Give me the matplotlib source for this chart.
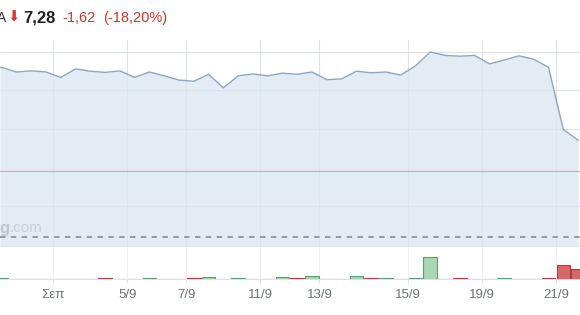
import matplotlib
matplotlib.use("Agg")
import matplotlib.pyplot as plt
import numpy as np

plt.rcParams["font.family"] = ["Liberation Sans", "DejaVu Sans"]

# ---- data ----
prices = [9.60, 9.48, 9.51, 9.48, 9.34, 9.56, 9.50, 9.47, 9.51, 9.34,
          9.48, 9.38, 9.27, 9.24, 9.42, 9.07, 9.38, 9.43, 9.38, 9.45,
          9.42, 9.48, 9.28, 9.30, 9.50, 9.46, 9.48, 9.40, 9.64, 10.00,
          9.91, 9.89, 9.91, 9.69, 9.79, 9.90, 9.81, 9.60, 7.99, 7.71]
volumes = [0.8, 0, 0, 0, 0, 0, 0, 0.8, 0, 0,
           0.8, 0, 0, 0.8, 2.0, 0, 0.8, 0, 0, 2.0,
           1.2, 2.7, 0, 0, 3.0, 0.8, 0.8, 0, 0.8, 22.0,
           0, 0.8, 0, 0, 0.8, 0, 0, 0.8, 14.0, 10.0]
tick_pos = [3.5, 8.5, 12.5, 17.5, 21.5, 27.5, 32.5, 37.5]
tick_labels = ["Σεπ", "5/9", "7/9", "11/9", "13/9", "15/9", "19/9", "21/9"]
ref_line = 6.91
dash_line = 5.19
last_price = "7,28"
change = "-1,62"
change_pct = "(-18,20%)"

W, H = 580, 315
fig = plt.figure(figsize=(W / 100, H / 100), dpi=100)

def box(x0, y0, x1, y1):
    return [x0 / W, 1 - y1 / H, (x1 - x0) / W, (y1 - y0) / H]

xlim = (-0.115, 39.13)
x = np.arange(len(prices))

# ---- price axes ----
ax = fig.add_axes(box(0, 40, W, 247))
ax.set_xlim(*xlim)
ax.set_ylim(4.94, 10.31)
for v in [10, 9, 8, 6]:
    ax.axhline(v, color="#e5e9ee", lw=0.8, zorder=1)
for t in tick_pos:
    ax.axvline(t, color="#e5e9ee", lw=0.8, zorder=1)
xf = np.concatenate([[xlim[0]], x])
pf = np.concatenate([[prices[0]], prices])
ax.fill_between(xf, pf, 4.94, color="#e3ebf4", zorder=2, lw=0)
for v in [10, 9, 8, 6]:
    ax.axhline(v, color="#d6dee8", lw=0.6, zorder=2.5, alpha=0.6)
for t in tick_pos:
    ax.axvline(t, color="#d6dee8", lw=0.6, zorder=2.5, alpha=0.6)
ax.plot(xf, pf, color="#8ea6bd", lw=1.0, zorder=4)
ax.axhline(ref_line, color="#ec9c98", lw=0.8, zorder=3)
ax.axhline(dash_line, color="#8c939b", lw=1.3, ls=(0, (3, 3)), zorder=3)
for s in ["top", "left", "right"]:
    ax.spines[s].set_visible(False)
ax.spines["bottom"].set_color("#c9cfd6")
ax.spines["bottom"].set_linewidth(1.0)
ax.set_xticks([])
ax.set_yticks([])

# ---- volume axes ----
axv = fig.add_axes(box(0, 247, W, 279))
axv.set_xlim(*xlim)
axv.set_ylim(0, 32)
diffs = np.diff(prices, prepend=prices[0] - 0.01)
face = ["#a9d7b3" if d >= 0 else "#d9676a" for d in diffs]
edge = ["#5e9e6c" if d >= 0 else "#a83f42" for d in diffs]
for t in tick_pos:
    axv.axvline(t, color="#eef0f3", lw=0.8, zorder=1)
axv.bar(x, volumes, width=0.92, color=face, edgecolor=edge, linewidth=0.8, zorder=3)
for s in ["top", "left", "right"]:
    axv.spines[s].set_visible(False)
axv.spines["bottom"].set_color("#dde1e6")
axv.set_yticks([])
axv.set_xticks(tick_pos)
axv.set_xticklabels(tick_labels, fontsize=9.5, color="#6b7075")
axv.tick_params(axis="x", length=3, color="#dde1e6", pad=4)

# ---- watermark ----
fig.text(-1 / W, 1 - 233 / H, "g", fontsize=12, fontweight="bold", color="#c0c5cc")
fig.text(10 / W, 1 - 232 / H, ".com", fontsize=11, color="#c9ced4")

# ---- header ----
fig.text(-3 / W, 1 - 22 / H, "A", fontsize=10, color="#333333")
fig.text(7 / W, 1 - 21.5 / H, "⬇", fontsize=10.5, color="#d23b2e",
         family=["DejaVu Sans"])
fig.text(23 / W, 1 - 22.5 / H, last_price, fontsize=12, fontweight="bold", color="#222222")
fig.text(62 / W, 1 - 22 / H, change, fontsize=10.5, color="#c0392b")
fig.text(103 / W, 1 - 22 / H, change_pct, fontsize=10.5, color="#c0392b")

fig.savefig("out.png", dpi=100)
